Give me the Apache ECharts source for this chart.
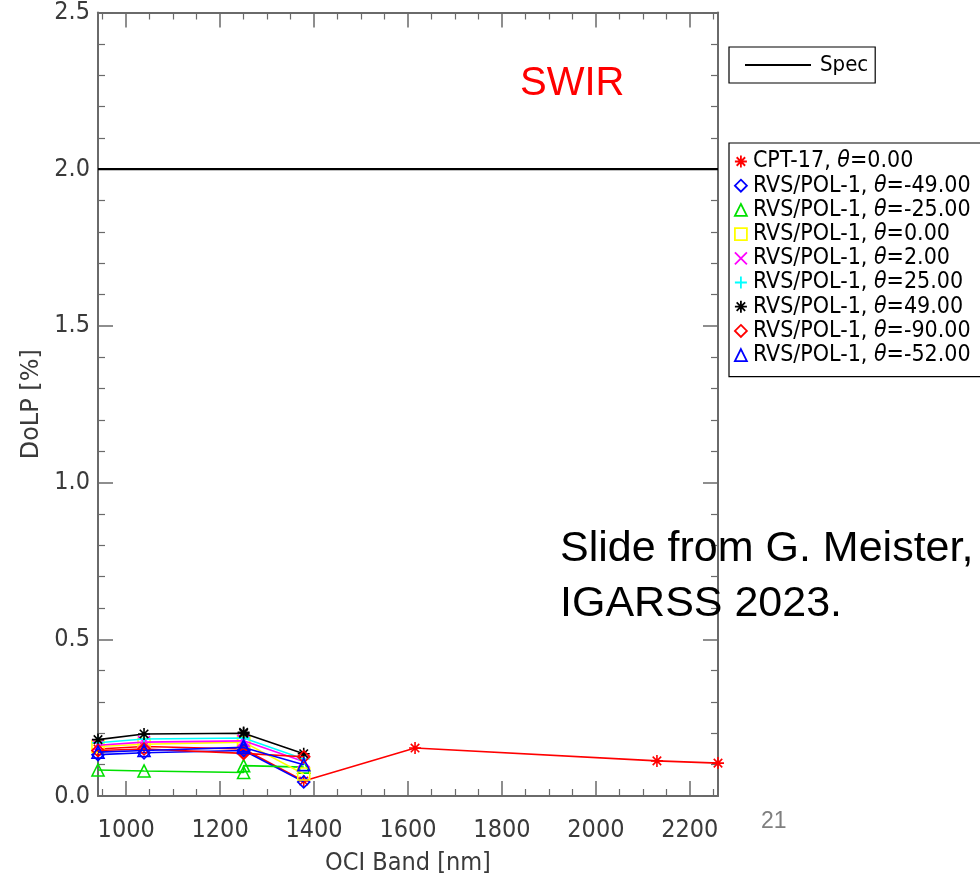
<!DOCTYPE html>
<html>
<head>
<meta charset="utf-8">
<script src="https://cdn.jsdelivr.net/npm/echarts@6/dist/echarts.min.js"></script>
<style>html,body{margin:0;padding:0;background:#fff}#c{width:980px;height:884px}</style>
</head>
<body>
<div id="c"></div>
<script>
// ---- data ----
const rvsBands = [940, 1038, 1250, 1250, 1378];
const cptBands = [940, 1038, 1250, 1250, 1378, 1615, 2130, 2260];
const cpt17_t0 = [0.150, 0.158, 0.150, 0.150, 0.048, 0.153, 0.112, 0.105];
const pol_m49 = [0.132, 0.138, 0.145, 0.145, 0.045];
const pol_m25 = [0.083, 0.080, 0.075, 0.097, 0.092];
const pol_0 = [0.158, 0.165, 0.172, 0.172, 0.070];
const pol_2 = [0.162, 0.172, 0.176, 0.176, 0.110];
const pol_25 = [0.170, 0.182, 0.185, 0.185, 0.118];
const pol_49 = [0.180, 0.198, 0.200, 0.203, 0.135];
const pol_m90 = [0.145, 0.150, 0.136, 0.138, 0.125];
const pol_m52 = [0.140, 0.145, 0.155, 0.160, 0.100];
const specBands = [940, 2260];
const specValues = [2.0, 2.0];
const seriesNames = [
  'CPT-17, θ=0.00', 'RVS/POL-1, θ=-49.00', 'RVS/POL-1, θ=-25.00', 'RVS/POL-1, θ=0.00',
  'RVS/POL-1, θ=2.00', 'RVS/POL-1, θ=25.00', 'RVS/POL-1, θ=49.00', 'RVS/POL-1, θ=-90.00',
  'RVS/POL-1, θ=-52.00'
];
const xMajorTicks = [1000, 1200, 1400, 1600, 1800, 2000, 2200];
const xMinorTicks = [950, 1050, 1100, 1150, 1250, 1300, 1350, 1450, 1500, 1550, 1650, 1700, 1750, 1850, 1900, 1950, 2050, 2100, 2150, 2250];

// ---- styling ----
const ASTER = 'path://M6 0L6 12M0 6L12 6M1.76 1.76L10.24 10.24M10.24 1.76L1.76 10.24';
const PLUS = 'path://M6 0L6 12M0 6L12 6';
const CROSS = 'path://M0 0L12 12M12 0L0 12';
const styles = [
  {c: '#ff0000', s: ASTER}, {c: '#0000ff', s: 'diamond'}, {c: '#00e000', s: 'triangle'},
  {c: '#ffff00', s: 'rect'}, {c: '#ff00ff', s: CROSS}, {c: '#00ffff', s: PLUS},
  {c: '#000000', s: ASTER}, {c: '#ff0000', s: 'diamond'}, {c: '#0000ff', s: 'triangle'}
];
const seriesData = [cpt17_t0, pol_m49, pol_m25, pol_0, pol_2, pol_25, pol_49, pol_m90, pol_m52];

const FONT = '"DejaVu Sans Condensed", "DejaVu Sans", sans-serif';
const axisCol = '#6a6a6a';
const txtCol = '#3a3a3a';

function zip(xs, ys) { return ys.map((y, i) => [xs[i], y]); }

const series = [{
  name: 'Spec', type: 'line', xAxisIndex: 0, yAxisIndex: 0,
  data: zip(specBands, specValues), symbol: 'none',
  lineStyle: {color: '#000', width: 2.2}, itemStyle: {color: '#000'}, z: 3, silent: true
}];
seriesData.forEach((d, i) => {
  const st = styles[i];
  series.push({
    name: seriesNames[i], type: 'line', xAxisIndex: 0, yAxisIndex: 0,
    data: zip(i === 0 ? cptBands : rvsBands, d),
    symbol: st.s, symbolSize: 12, showAllSymbol: true,
    lineStyle: {color: st.c, width: 1.6},
    itemStyle: {color: 'rgba(0,0,0,0)', borderColor: st.c, borderWidth: 1.6},
    z: 4 + i, animation: false
  });
});

const baseX = {
  type: 'value', min: 940, max: 2260, gridIndex: 0,
  splitLine: {show: false}, scale: true
};
const xAxes = [
  Object.assign({}, baseX, {
    position: 'bottom',
    name: 'OCI Band [nm]', nameLocation: 'middle', nameGap: 55,
    nameTextStyle: {fontFamily: FONT, fontSize: 25, color: txtCol},
    axisLine: {show: true, lineStyle: {color: axisCol, width: 2}},
    axisTick: {show: true, inside: true, length: 15, lineStyle: {color: axisCol, width: 1.5}, customValues: xMajorTicks},
    axisLabel: {show: true, customValues: xMajorTicks, margin: 22, fontFamily: FONT, fontSize: 25, color: txtCol,
      formatter: v => String(Math.round(v))}
  }),
  Object.assign({}, baseX, {
    position: 'bottom',
    axisLine: {show: false},
    axisTick: {show: true, inside: true, length: 7, lineStyle: {color: axisCol, width: 1.2}, customValues: xMinorTicks},
    axisLabel: {show: false}
  }),
  Object.assign({}, baseX, {
    position: 'top',
    axisLine: {show: true, lineStyle: {color: axisCol, width: 2}},
    axisTick: {show: true, inside: true, length: 15, lineStyle: {color: axisCol, width: 1.5}, customValues: xMajorTicks},
    axisLabel: {show: false}
  }),
  Object.assign({}, baseX, {
    position: 'top',
    axisLine: {show: false},
    axisTick: {show: true, inside: true, length: 7, lineStyle: {color: axisCol, width: 1.2}, customValues: xMinorTicks},
    axisLabel: {show: false}
  })
];
const baseY = {
  type: 'value', min: 0, max: 2.5, interval: 0.5, gridIndex: 0,
  splitLine: {show: false},
  axisLine: {show: true, lineStyle: {color: axisCol, width: 2}},
  axisTick: {show: true, inside: true, length: 15, lineStyle: {color: axisCol, width: 1.5}},
  minorTick: {show: true, splitNumber: 5, length: 7, lineStyle: {color: axisCol, width: 1.2}}
};
const yAxes = [
  Object.assign({}, baseY, {
    position: 'left',
    name: 'DoLP [%]', nameLocation: 'middle', nameGap: 54, nameRotate: 90,
    nameTextStyle: {fontFamily: '"DejaVu Sans", sans-serif', fontSize: 24, color: txtCol},
    axisLabel: {show: true, margin: 8, fontFamily: FONT, fontSize: 25, color: txtCol,
      formatter: v => v.toFixed(1)}
  }),
  Object.assign({}, baseY, {position: 'right', axisLabel: {show: false}})
];

const LFONT = '"DejaVu Sans Condensed", "DejaVu Sans", sans-serif';
const legendData = seriesNames.map((n, i) => ({
  name: n, icon: styles[i].s,
  itemStyle: {color: 'rgba(0,0,0,0)', borderColor: styles[i].c, borderWidth: 1.8}
}));

const option = {
  animation: false,
  backgroundColor: '#fff',
  grid: {left: 98, right: 262, top: 10, bottom: 88, containLabel: false},
  xAxis: xAxes,
  yAxis: yAxes,
  series: series,
  legend: [
    {
      show: true, orient: 'vertical', left: 729, top: 47,
      data: [{name: 'Spec', icon: 'rect', itemStyle: {color: '#000', borderWidth: 0}}],
      itemWidth: 66, itemHeight: 2,
      padding: [7, 7, 7, 16],
      borderColor: '#000', borderWidth: 1.2, borderRadius: 0,
      textStyle: {fontFamily: LFONT, fontSize: 22, color: '#000', padding: [0, 0, 0, 4]},
      selectedMode: false
    },
    {
      show: true, orient: 'vertical', left: 729, top: 143,
      data: legendData,
      itemWidth: 12, itemHeight: 12, itemGap: 1.2,
      padding: [7, 12, 10, 5],
      borderColor: '#000', borderWidth: 1.2, borderRadius: 0,
      textStyle: {fontFamily: LFONT, fontSize: 23, color: '#000', lineHeight: 20, padding: [0, 0, 0, 1],
        rich: {t: {fontFamily: LFONT, fontSize: 23, fontStyle: 'italic', color: '#000', lineHeight: 20}}},
      formatter: name => name.replace('θ', '{t|θ}'),
      selectedMode: false
    }
  ],
  title: [
    {text: 'SWIR', left: 520, top: 64, padding: 0,
      textStyle: {fontFamily: '"Liberation Sans", sans-serif', fontSize: 40, fontWeight: 'normal', color: '#ff0000'}},
    {text: 'Slide from G. Meister,\nIGARSS 2023.', left: 560, top: 522, padding: 0,
      textStyle: {fontFamily: '"Liberation Sans", sans-serif', fontSize: 43, fontWeight: 'normal', color: '#000', lineHeight: 55}},
    {text: '21', left: 761, top: 810, padding: 0,
      textStyle: {fontFamily: '"Liberation Sans", sans-serif', fontSize: 23, fontWeight: 'normal', color: '#7f7f7f'}}
  ]
};

const chart = echarts.init(document.getElementById('c'), null, {renderer: 'canvas'});
chart.setOption(option);
</script>
</body>
</html>
